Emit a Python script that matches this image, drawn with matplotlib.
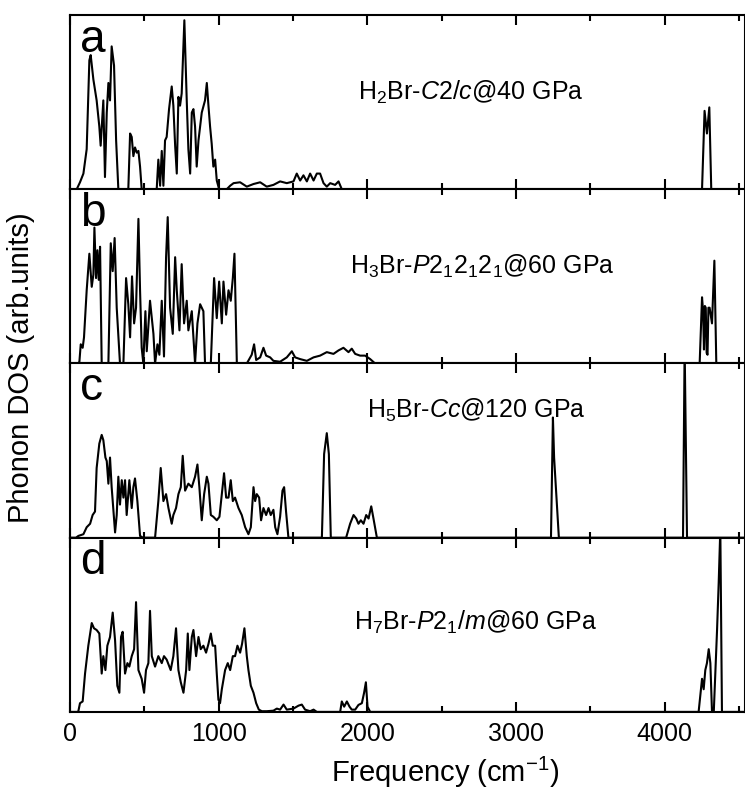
import numpy as np
import matplotlib
matplotlib.use("Agg")
import matplotlib.pyplot as plt
from matplotlib.ticker import MultipleLocator

plt.rcParams['font.family'] = ['Liberation Sans', 'DejaVu Sans']
plt.rcParams['mathtext.fontset'] = 'custom'
plt.rcParams['mathtext.rm'] = 'Liberation Sans'
plt.rcParams['mathtext.it'] = 'Liberation Sans:italic'

# (frequency cm-1, DOS), one list per panel
dos_a = [(0, 0), (45, 0), (67, 0.04), (90, 0.09), (112, 0.23), (130, 0.74), (139, 0.77), (157, 0.63),
         (179, 0.51), (197, 0.36), (206, 0.25), (224, 0.51), (235, 0.07), (247, 0.44), (258, 0.61),
         (269, 0.51), (280, 0.82), (296, 0.71), (310, 0.28), (325, 0),
         (392, 0), (404, 0.32), (415, 0.30), (426, 0.19), (437, 0.24), (449, 0.21), (460, 0.22),
         (471, 0.13), (482, 0),
         (583, 0), (594, 0.17), (606, 0.02), (617, 0.22), (628, 0.02), (639, 0.28), (650, 0.30),
         (666, 0.46), (684, 0.59), (695, 0.48), (707, 0.25), (718, 0.09), (729, 0.53), (740, 0.48),
         (751, 0.55), (769, 0.97), (785, 0.51), (796, 0.23), (808, 0.09), (819, 0.44), (830, 0.46),
         (841, 0.36), (852, 0.13), (864, 0.28), (886, 0.44), (908, 0.51), (920, 0.61), (931, 0.48),
         (942, 0.36), (953, 0.26), (964, 0.13), (976, 0.17), (987, 0.05), (1003, 0),
         (1054, 0), (1077, 0.02), (1100, 0.035), (1144, 0.04), (1189, 0.015), (1234, 0.03),
         (1279, 0.04), (1323, 0.015), (1368, 0.025), (1413, 0.045), (1458, 0.035), (1503, 0.045),
         (1525, 0.09), (1548, 0.05), (1570, 0.08), (1593, 0.045), (1615, 0.09), (1638, 0.05),
         (1660, 0.09), (1682, 0.09), (1705, 0.035), (1727, 0.015), (1750, 0.035), (1783, 0.025),
         (1806, 0.045), (1828, 0),
         (4251, 0), (4268, 0.45), (4284, 0.32), (4300, 0.47), (4313, 0), (4540, 0)]

dos_b = [(0, 0), (55, 0), (63, 0.01), (72, 0.11), (85, 0.09), (94, 0.15), (112, 0.42), (130, 0.63),
         (146, 0.44), (157, 0.51), (164, 0.78), (175, 0.49), (184, 0.65), (193, 0.48), (202, 0.67),
         (213, 0), (258, 0), (274, 0.69), (287, 0.53), (300, 0.72), (314, 0.32), (336, 0),
         (359, 0), (377, 0.49), (392, 0.34), (404, 0.15), (417, 0.50), (431, 0.23), (444, 0.32),
         (460, 0.83), (471, 0.42), (482, 0.09), (493, 0), (507, 0.30), (516, 0.07), (538, 0.36),
         (561, 0.17), (572, 0), (588, 0.11), (601, 0.05), (617, 0.36), (632, 0.04), (646, 0.61),
         (657, 0.84), (673, 0.32), (691, 0.17), (707, 0.61), (718, 0.42), (736, 0.19), (751, 0.57),
         (767, 0.23), (785, 0.36), (796, 0.19), (819, 0.30), (841, 0), (857, 0.23), (875, 0.34),
         (897, 0.30), (908, 0), (947, 0), (969, 0.49), (987, 0.26), (1003, 0.47), (1021, 0.23),
         (1032, 0.47), (1050, 0.28), (1066, 0.42), (1081, 0.36), (1095, 0.49), (1106, 0.63),
         (1122, 0), (1189, 0), (1222, 0.05), (1238, 0.11), (1252, 0.02), (1279, 0.035),
         (1301, 0.09), (1319, 0.045), (1346, 0.035), (1368, 0.015), (1413, 0.01), (1458, 0.035),
         (1492, 0.07), (1514, 0.035), (1548, 0.025), (1593, 0.015), (1638, 0.035), (1682, 0.045),
         (1727, 0.065), (1772, 0.055), (1806, 0.075), (1839, 0.09), (1873, 0.065), (1895, 0.085),
         (1918, 0.055), (1951, 0.045), (1985, 0.045), (2019, 0.025), (2052, 0),
         (4235, 0), (4251, 0.38), (4258, 0.30), (4264, 0.08), (4270, 0.33), (4276, 0.32),
         (4282, 0.06), (4288, 0.05), (4294, 0.32), (4302, 0.32), (4318, 0.23), (4334, 0.59),
         (4347, 0), (4540, 0)]

dos_c = [(0, 0), (40, 0), (56, 0.01), (90, 0.02), (112, 0.06), (135, 0.08), (152, 0.13), (168, 0.15),
         (179, 0.40), (197, 0.54), (213, 0.59), (224, 0.56), (238, 0.46), (247, 0.44), (258, 0.31),
         (269, 0.46), (280, 0.29), (303, 0.03), (314, 0.13), (325, 0.35), (336, 0.19), (348, 0.33),
         (359, 0.23), (370, 0.33), (381, 0.13), (399, 0.33), (415, 0.17), (426, 0.29), (437, 0.34),
         (453, 0.21), (471, 0.01), (490, 0),
         (572, 0), (594, 0.21), (610, 0.40), (628, 0.21), (646, 0.25), (662, 0.17), (684, 0.08),
         (695, 0.13), (713, 0.17), (729, 0.25), (745, 0.29), (758, 0.47), (774, 0.27), (796, 0.31),
         (819, 0.29), (841, 0.35), (857, 0.42), (870, 0.29), (886, 0.10), (902, 0.25), (920, 0.35),
         (931, 0.31), (947, 0.13), (964, 0.12), (987, 0.10), (1005, 0.12), (1021, 0.25),
         (1036, 0.37), (1050, 0.23), (1066, 0.23), (1081, 0.33), (1095, 0.21), (1110, 0.23),
         (1133, 0.17), (1155, 0.13), (1178, 0.06), (1200, 0.02), (1216, 0.06), (1234, 0.29),
         (1245, 0.21), (1256, 0.25), (1272, 0.23), (1285, 0.10), (1301, 0.17), (1319, 0.13),
         (1335, 0.17), (1350, 0.13), (1368, 0.16), (1380, 0.06), (1395, 0.02), (1413, 0.12),
         (1429, 0.27), (1440, 0.29), (1453, 0.15), (1469, 0),
         (1694, 0), (1709, 0.48), (1727, 0.60), (1741, 0.48), (1754, 0),
         (1857, 0), (1884, 0.08), (1907, 0.13), (1925, 0.11), (1940, 0.08), (1956, 0.10),
         (1974, 0.08), (1992, 0.13), (2008, 0.11), (2026, 0.18), (2041, 0.11), (2064, 0),
         (3235, 0), (3248, 0.69), (3256, 0.46), (3288, 0),
         (4123, 0), (4134, 1.1), (4150, 0), (4540, 0)]

dos_d = [(0, 0), (50, 0), (56, 0.004), (67, 0.05), (85, 0.06), (101, 0.22), (123, 0.38), (146, 0.51),
         (161, 0.48), (179, 0.47), (197, 0.45), (213, 0.22), (224, 0.32), (238, 0.24), (251, 0.38),
         (269, 0.43), (287, 0.57), (303, 0.41), (318, 0.15), (332, 0.11), (343, 0.43), (354, 0.46),
         (370, 0.22), (386, 0.28), (399, 0.26), (415, 0.32), (431, 0.36), (444, 0.63), (460, 0.24),
         (482, 0.19), (498, 0.11), (511, 0.24), (527, 0.28), (538, 0.58), (550, 0.32), (572, 0.26),
         (594, 0.32), (617, 0.28), (632, 0.32), (650, 0.30), (677, 0.24), (695, 0.32), (713, 0.48),
         (729, 0.24), (745, 0.17), (763, 0.11), (781, 0.24), (792, 0.45), (803, 0.24), (819, 0.43),
         (830, 0.47), (848, 0.32), (864, 0.43), (879, 0.36), (897, 0.38), (915, 0.34), (931, 0.39),
         (947, 0.45), (960, 0.38), (976, 0.38), (987, 0.22), (998, 0.07), (1009, 0.05),
         (1021, 0.13), (1043, 0.24), (1061, 0.28), (1077, 0.24), (1095, 0.32), (1110, 0.32),
         (1126, 0.38), (1144, 0.34), (1157, 0.39), (1173, 0.48), (1189, 0.32), (1200, 0.24),
         (1216, 0.15), (1234, 0.11), (1252, 0.05), (1270, 0.013), (1290, 0.004), (1323, 0.004),
         (1368, 0.007), (1391, 0.019), (1413, 0.013), (1436, 0.042), (1458, 0.013), (1503, 0.019),
         (1537, 0.036), (1559, 0.042), (1581, 0.013), (1615, 0.004), (1638, 0.013), (1660, 0),
         (1817, 0), (1828, 0.06), (1844, 0.03), (1862, 0.06), (1880, 0.03), (1895, 0.013),
         (1918, 0.013), (1940, 0.04), (1963, 0.05), (1978, 0.11), (1990, 0.17), (2001, 0.03),
         (2019, 0),
         (4228, 0), (4251, 0.19), (4262, 0.13), (4273, 0.24), (4284, 0.28), (4296, 0.36),
         (4307, 0.28), (4318, 0), (4330, 0), (4352, 0.47), (4363, 0.74), (4374, 1.05), (4385, 0),
         (4540, 0)]

panel_letters = ["a", "b", "c", "d"]
phase_labels = [r"H$_\mathrm{2}$Br-$\mathit{C}$2/$\mathit{c}$@40 GPa",
                r"H$_\mathrm{3}$Br-$\mathit{P}$2$_\mathrm{1}$2$_\mathrm{1}$2$_\mathrm{1}$@60 GPa",
                r"H$_\mathrm{5}$Br-$\mathit{Cc}$@120 GPa",
                r"H$_\mathrm{7}$Br-$\mathit{P}$2$_\mathrm{1}$/$\mathit{m}$@60 GPa"]
label_pos = [(0.427, 0.513), (0.415, 0.514), (0.44, 0.69), (0.42, 0.47)]

fig, axes = plt.subplots(4, 1, sharex=True, figsize=(7.45, 7.91), dpi=100)
fig.subplots_adjust(left=0.094, right=1.0, top=0.981, bottom=0.1, hspace=0)

for ax, data, letter, lab, pos in zip(axes, [dos_a, dos_b, dos_c, dos_d],
                                      panel_letters, phase_labels, label_pos):
    arr = np.array(data)
    ax.plot(arr[:, 0], arr[:, 1], color="black", lw=1.5)
    ax.set_xlim(0, 4540)
    ax.set_ylim(0, 1)
    ax.set_yticks([])
    ax.xaxis.set_major_locator(MultipleLocator(1000))
    ax.xaxis.set_minor_locator(MultipleLocator(500))
    ax.tick_params(axis="x", which="major", direction="in", top=True, length=7, width=1.5,
                   labelsize=18, pad=7)
    ax.tick_params(axis="x", which="minor", direction="in", top=True, length=4, width=1.5)
    for sp in ax.spines.values():
        sp.set_linewidth(1.5)
    ax.text(0.015, 0.79, letter, transform=ax.transAxes, fontsize=33, ha="left", va="baseline")
    ax.text(pos[0], pos[1], lab, transform=ax.transAxes, fontsize=18, ha="left", va="baseline")

fig.text(445 / 745, 1 - 772 / 791, r"Frequency (cm$^{-1}$)", fontsize=21, ha="center", va="center")
fig.text(0.028, 1 - 368 / 791, "Phonon DOS (arb.units)", fontsize=21, rotation=90,
         ha="center", va="center")

fig.savefig("out.png", dpi=100)
